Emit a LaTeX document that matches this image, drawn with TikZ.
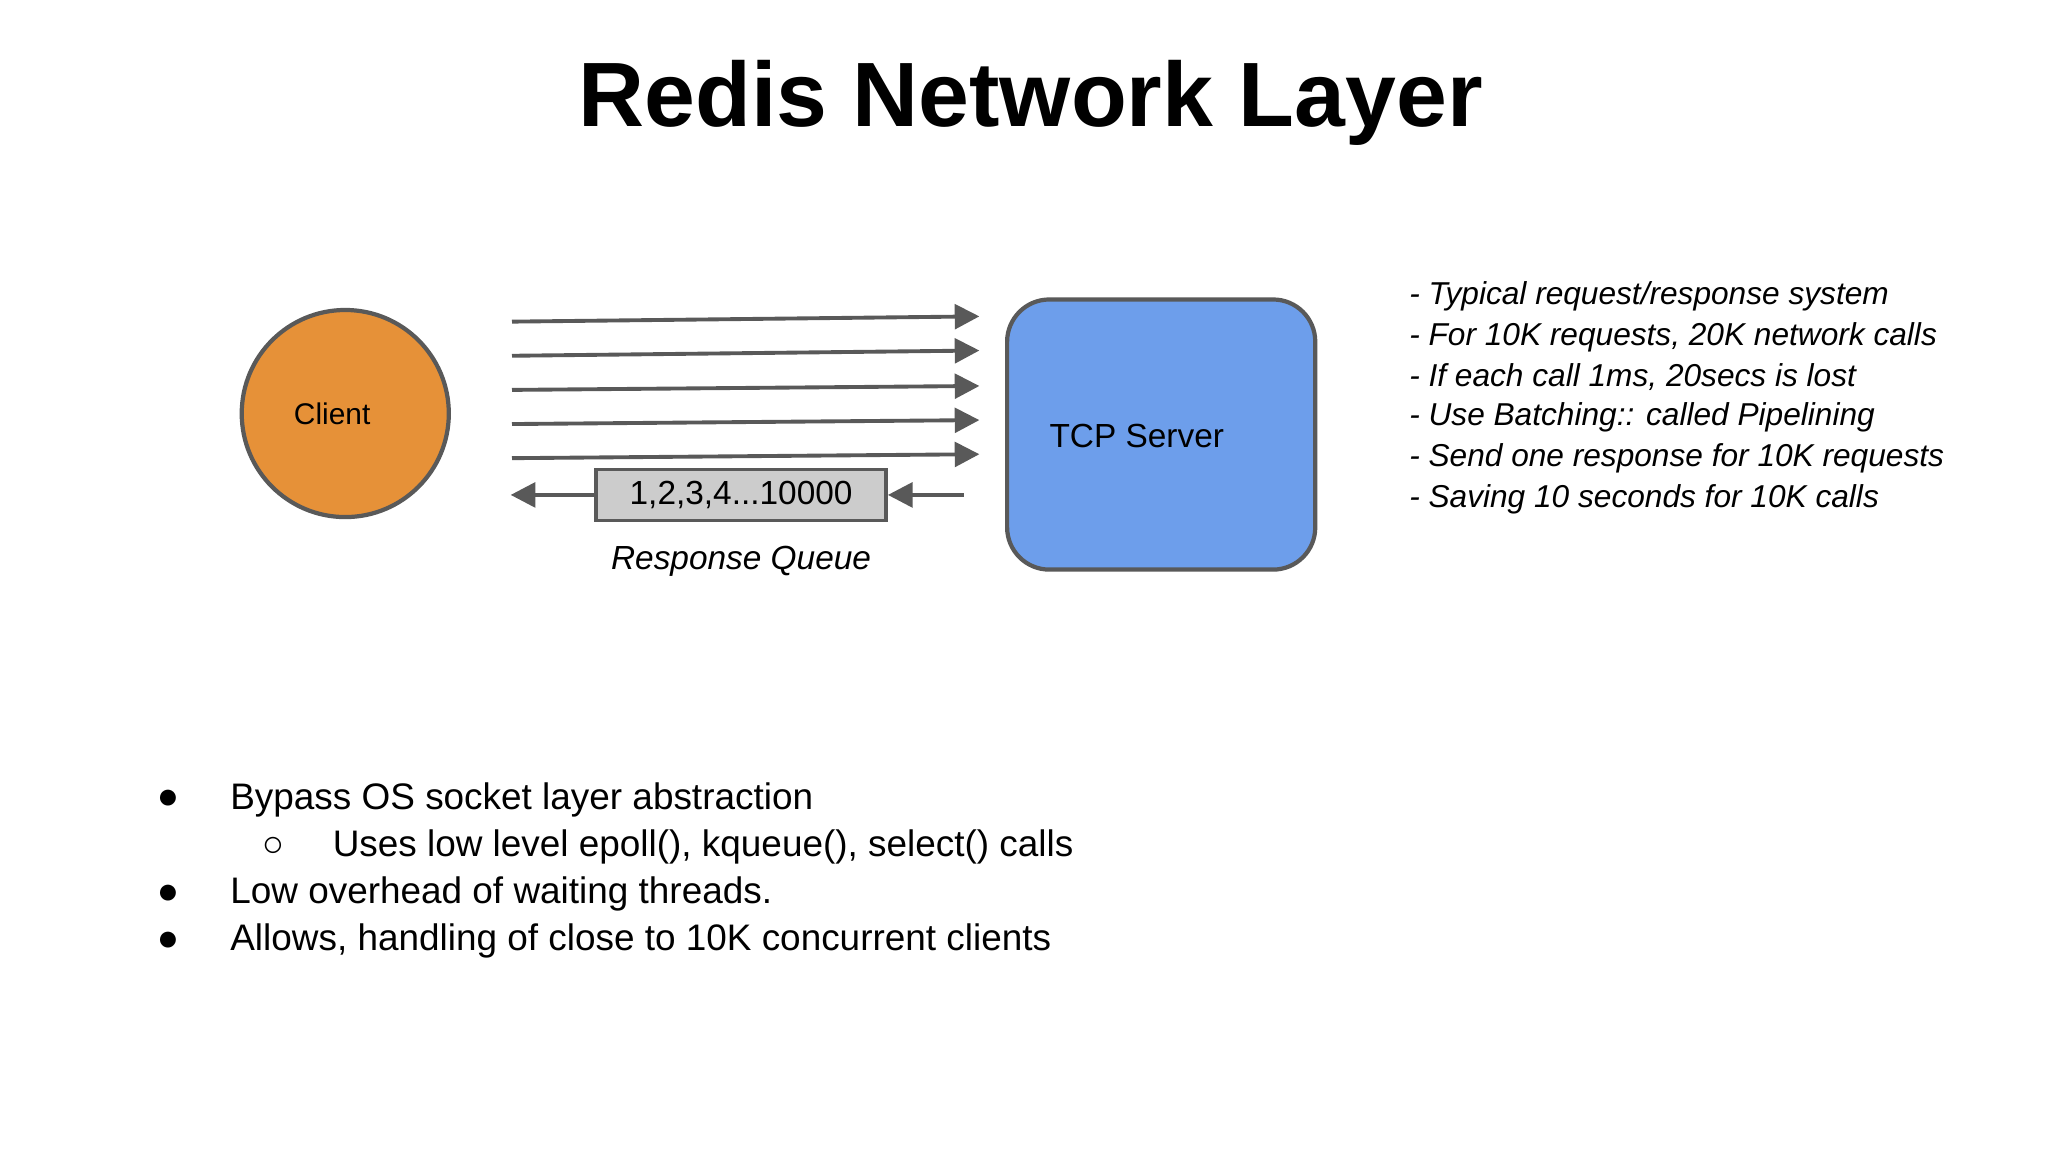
\documentclass[tikz,border=0pt]{standalone}
\usepackage{fontspec}
\setmainfont{Liberation Sans}
\usetikzlibrary{positioning, arrows.meta}
\definecolor{clientorange}{RGB}{230, 145, 56}
\definecolor{serverblue}{RGB}{109, 158, 235}
\definecolor{edgegray}{RGB}{89, 89, 89}
\definecolor{queuegray}{RGB}{204, 204, 204}
\begin{document}
\begin{tikzpicture}[
    x=0.013128cm, y=-0.013128cm,
    client/.style={
      circle,
      draw=edgegray,
      line width=1.2pt,
      fill=clientorange,
      minimum size=158\pgflinewidth
    },
    server/.style={
      rectangle,
      rounded corners=12pt,
      draw=edgegray,
      line width=1.2pt,
      fill=serverblue,
      minimum width=3.08cm,
      minimum height=2.70cm
    },
    queue/.style={
      rectangle,
      draw=edgegray,
      line width=1pt,
      fill=queuegray,
      minimum width=2.90cm,
      minimum height=0.51cm,
      inner sep=0pt,
      font=\fontsize{9.5}{11}\selectfont
    },
    arrow/.style={-{Triangle[length=7pt,width=7pt]}, line width=1.1pt, draw=edgegray},
    note/.style={anchor=west, font=\fontsize{9}{11}\selectfont\itshape},
    bullet/.style={anchor=west, font=\fontsize{10.5}{12}\selectfont}
  ]
    \useasboundingbox[fill=white] (0,0) rectangle (1560,878);
    \node[font=\fontsize{26}{30}\selectfont\bfseries] (title) at (785,78) {Redis Network Layer};

    \node[client, minimum size=2.07cm] (client) at (263,315) {};
    \node[font=\fontsize{8.5}{10}\selectfont] at (253,315) {Client};
    \node[server] (server) at (884.5,331) {};
    \node[anchor=west, font=\fontsize{9.5}{11}\selectfont] (servertext) at (790,332) {TCP Server};

    % requests
    \foreach \i/\ya/\yb in {1/245/241, 2/271/267, 3/297/294, 4/323/320, 5/349/346} {
      \coordinate (req\i a) at (390,\ya);
      \coordinate (req\i b) at (746,\yb);
      \draw[arrow] (req\i a) -- (req\i b);
    }

    % response queue
    \node[queue] (queue) at (564.5,377) {1,2,3,4...10000};
    \node[font=\fontsize{9.5}{11}\selectfont\itshape, below=0.12cm of queue] (queuelabel) {Response Queue};
    \coordinate (respin) at (734,377);
    \coordinate (respout) at (389,377);
    \draw[arrow] (respin) -- (queue);
    \draw[arrow] (queue) -- (respout);

    \node[note] at (1064,226) {- Typical request/response system};
    \node[note] at (1064,257) {- For 10K requests, 20K network calls};
    \node[note] at (1064,287) {- If each call 1ms, 20secs is lost};
    \node[note] at (1064,318) {- Use Batching:: called Pipelining};
    \node[note] at (1064,349) {- Send one response for 10K requests};
    \node[note] at (1064,380) {- Saving 10 seconds for 10K calls};

    \node[bullet] at (110,609) {●};
    \node[bullet] at (166,609) {Bypass OS socket layer abstraction};
    \node[bullet] at (190,645) {○};
    \node[bullet] at (244,645) {Uses low level epoll(), kqueue(), select() calls};
    \node[bullet] at (110,681) {●};
    \node[bullet] at (166,681) {Low overhead of waiting threads.};
    \node[bullet] at (110,717) {●};
    \node[bullet] at (166,717) {Allows, handling of close to 10K concurrent clients};
  \end{tikzpicture}
\end{document}
